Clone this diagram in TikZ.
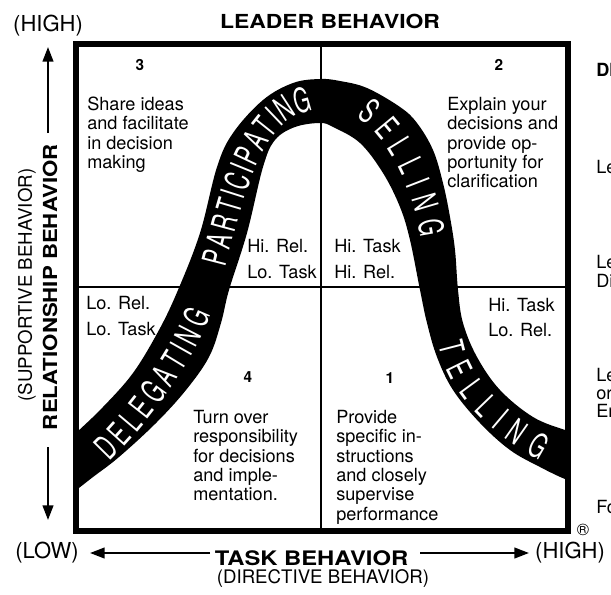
\documentclass[tikz,border=0pt]{standalone}
\usepackage{fontspec}
\setmainfont{TeX Gyre Heros}
\newfontfamily\bandfont[FakeStretch=0.62]{TeX Gyre Heros}
\usetikzlibrary{arrows.meta,decorations.text}
\newcommand{\mylines}[1]{\begin{tabular}[t]{@{}l@{}}#1\end{tabular}}
\begin{document}
\begin{tikzpicture}[x=0.75pt,y=-0.75pt,
  body/.style={anchor=base west, inner sep=0pt, font=\fontsize{13.6}{14.5}\selectfont},
  pair/.style={anchor=base west, inner sep=0pt, font=\fontsize{13.6}{19.3}\selectfont},
  num/.style={anchor=base, inner sep=0pt, font=\fontsize{11.5}{12}\selectfont\bfseries},
  axis/.style={inner sep=0pt, font=\fontsize{14.5}{16}\selectfont\bfseries},
  sub/.style={inner sep=0pt, font=\fontsize{14}{16}\selectfont},
  hl/.style={inner sep=0pt, font=\fontsize{16.5}{18}\selectfont},
  edge/.style={anchor=base west, inner sep=0pt, font=\fontsize{13.6}{14.5}\selectfont},
  axarrow/.style={line width=1.6pt, -{Triangle[length=11pt,width=8pt]}},
  bandtext/.style={decorate, decoration={text along path, text align=fit to path, raise=-9pt,
     text={|\color{white}|#1}}}
]
\useasboundingbox (0,0) rectangle (611,594);

% quadrant dividers
\coordinate (midTop) at (321,44);
\coordinate (midBot) at (321,531);
\coordinate (midLeft) at (76,287);
\coordinate (midRight) at (568,287);
\draw[line width=1.1pt] (midTop) -- (midBot);
\draw[line width=1.1pt] (midLeft) -- (midRight);

% the bell-shaped band
\begin{scope}
\clip (76,44) rectangle (568,531);
\fill[black] plot[smooth, tension=0.6] coordinates {
 (62,446) (76,433) (103,407) (133,373) (159,330) (178,290) (200,233) (217,167)
 (233,133) (263,100) (293,83) (320,79) (340,81) (367,88) (400,107) (417,123)
 (433,150) (443,183) (450,217) (455,250) (458,290) (463,323) (477,357) (500,390)
 (533,417) (565,430) (580,434)}
 -- plot[smooth, tension=0.6] coordinates {
 (580,483) (565,479) (540,467) (510,450) (480,423) (453,390) (437,357) (427,323)
 (420,290) (410,240) (400,207) (383,173) (360,143) (333,127) (320,123) (295,127)
 (275,140) (263,167) (247,233) (229,290) (221,323) (209,357) (186,390) (156,423)
 (119,457) (93,477) (76,490) (62,498)} -- cycle;
\bandfont\fontsize{25.5}{25.5}\selectfont
\path[bandtext=PARTICIPATING] (214,264) .. controls (232,195) and (250,108) .. (310,99);
\path[bandtext=SELLING] (364,107) .. controls (400,130) and (426,190) .. (432,236);
\path[bandtext=DELEGATING] (101,453) .. controls (140,415) and (180,360) .. (200,310);
\path[bandtext=TELLING] (450,341) .. controls (458,382) and (490,420) .. (546,450);
\end{scope}

% frame
\draw[line width=4.5pt] (76,44) rectangle (568,531);

% quadrant numbers and texts
\node[num] (n3) at (140,70) {3};
\node[num] (n2) at (499,70) {2};
\node[num] (n4) at (248,382) {4};
\node[num] (n1) at (390,383) {1};
\node[body] (t3) at (87,110.5) {\mylines{Share ideas\\and facilitate\\in decision\\making}};
\node[body] (t2) at (447,110.5) {\mylines{Explain your\\decisions and\\provide op-\\portunity for\\clarification}};
\node[body] (t4) at (193,423.5) {\mylines{Turn over\\responsibility\\for decisions\\and imple-\\mentation.}};
\node[body] (t1) at (336,423.5) {\mylines{Provide\\specific in-\\structions\\and closely\\supervise\\performance}};

% style labels
\node[pair] (p3) at (247,252.5) {\mylines{Hi. Rel.\\Lo. Task}};
\node[pair] (p2) at (334,252.5) {\mylines{Hi. Task\\Hi. Rel.}};
\node[pair] (p4) at (86,309.5) {\mylines{Lo. Rel.\\Lo. Task}};
\node[pair] (p1) at (488,311) {\mylines{Hi. Task\\Lo. Rel.}};

% axis titles
\node[axis, anchor=base] (leader) at (330,28) {\scalebox{1.185}[1]{LEADER BEHAVIOR}};
\node[axis, anchor=base] (task) at (311.5,565) {\scalebox{1.19}[1]{\fontsize{15}{16}\selectfont TASK BEHAVIOR}};
\node[sub] (directive) at (323,578) {(DIRECTIVE BEHAVIOR)};
\node[axis, rotate=90] (relation) at (50,287) {\scalebox{1.15}[1]{RELATIONSHIP BEHAVIOR}};
\node[sub, rotate=90] (supportive) at (27,285) {(SUPPORTIVE BEHAVIOR)};
\node[hl] (hightop) at (48,26) {(HIGH)};
\node[hl] (low) at (47,553) {(LOW)};
\node[hl] (highright) at (570,553) {(HIGH)};
\node[inner sep=0pt, font=\fontsize{12.5}{14}\selectfont] (reg) at (583,530) {\textregistered};

% axis arrows
\coordinate (upTail) at (48,133);
\coordinate (upTip) at (48,47);
\coordinate (downTail) at (48,447);
\coordinate (downTip) at (48,520);
\coordinate (leftTail) at (210,553);
\coordinate (leftTip) at (90,553);
\coordinate (rightTail) at (420,553);
\coordinate (rightTip) at (529,553);
\draw[axarrow] (upTail) -- (upTip);
\draw[axarrow] (downTail) -- (downTip);
\draw[axarrow] (leftTail) -- (leftTip);
\draw[axarrow] (rightTail) -- (rightTip);

% text cut off at the right edge
\node[edge, font=\fontsize{13.6}{14.5}\selectfont\bfseries] (e1) at (596,76.5) {DI};
\node[edge] (e2) at (596,173.5) {Le};
\node[edge] (e3) at (596,268.5) {Le};
\node[edge] (e4) at (596,287.5) {Di};
\node[edge] (e5) at (596,381.5) {Le};
\node[edge] (e6) at (596,399.5) {or};
\node[edge] (e7) at (596,417.5) {En};
\node[edge] (e8) at (596,513.5) {Fo};
\end{tikzpicture}
\end{document}
